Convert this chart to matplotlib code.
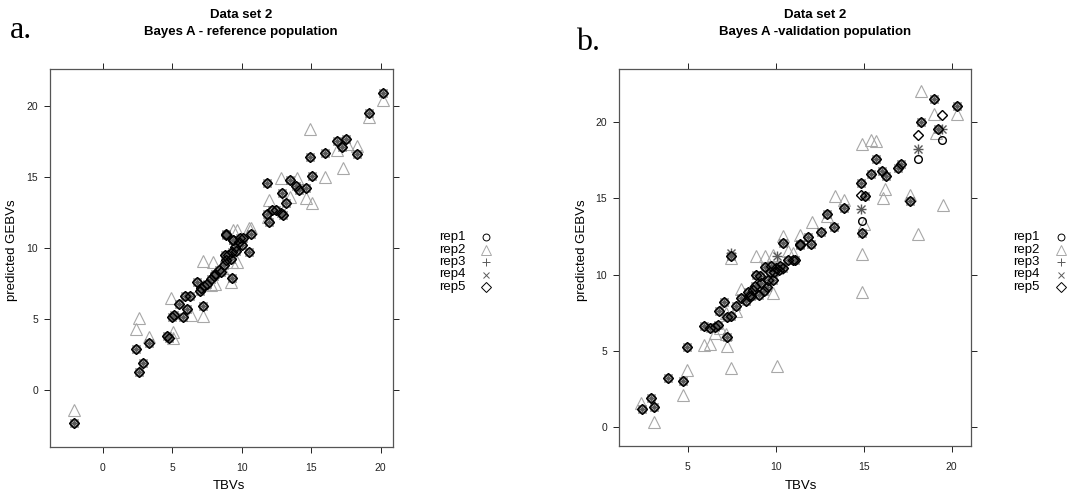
import matplotlib
matplotlib.use('Agg')
import matplotlib.pyplot as plt
from matplotlib.lines import Line2D

plt.rcParams['font.family'] = ['Liberation Sans', 'DejaVu Sans']

# ---------------- panel a: reference population ----------------
# reps 1, 3, 4 and 5 give the same predictions here
a_tbv = [20.2, 19.2, 16.9, 17.5, 17.2, 18.3, 16.0, 14.9, 15.1, 11.8, 13.5, 13.9, 14.1,
         14.6, 12.9, 13.2, 11.8, 12.2, 12.5, 12.8, 13.0, 12.0, 10.7, 10.5, 8.9, 9.4,
         9.9, -2.1, 2.6, 2.9, 2.4, 3.3, 4.65, 4.75, 5.5, 5.9, 6.3, 4.95, 5.1, 5.75,
         6.1, 7.2, 6.8, 7.1, 7.5, 7.8, 8.1, 8.4, 8.7, 8.9, 9.0, 9.3, 9.5, 9.8, 10.1,
         8.85, 9.4, 9.3, 7.3, 7.0, 8.0, 8.5, 9.2, 9.6, 10.0, 8.8]
a_gebv = [20.9, 19.5, 17.5, 17.65, 17.1, 16.6, 16.7, 16.4, 15.1, 14.6, 14.8, 14.4, 14.1,
          14.2, 13.9, 13.2, 12.4, 12.7, 12.7, 12.5, 12.3, 11.8, 11.0, 9.7, 10.9, 10.6,
          10.7, -2.3, 1.3, 1.9, 2.9, 3.3, 3.8, 3.7, 6.05, 6.6, 6.6, 5.15, 5.3, 5.15,
          5.7, 5.9, 7.6, 7.2, 7.5, 7.85, 8.2, 8.45, 8.8, 9.15, 9.5, 9.7, 10.1, 10.4, 10.7,
          11.0, 10.55, 7.9, 7.3, 7.0, 8.0, 8.3, 9.2, 9.8, 10.2, 9.5]
a_rep2_tbv = [20.2, 19.2, 14.9, 16.9, 18.3, 17.3, 16.0, 12.8, 14.0, 12.0, 13.5, 14.6,
              15.1, 9.4, 9.65, 10.5, 10.7, -2.1, 2.6, 2.4, 3.3, 5.07, 5.07, 4.9, 6.35,
              7.2, 7.2, 7.95, 9.3, 9.65, 7.8, 8.1, 9.2, 8.6, 11.9, 17.6]
a_rep2_gebv = [20.4, 19.2, 18.4, 16.9, 17.2, 15.6, 15.0, 14.9, 14.9, 13.4, 13.6, 13.5,
               13.2, 11.3, 11.3, 11.4, 11.4, -1.4, 5.1, 4.3, 3.75, 4.1, 3.65, 6.5, 5.3,
               5.2, 9.1, 9.0, 9.0, 9.0, 7.4, 7.5, 7.6, 8.6, 12.2, 17.3]

# ---------------- panel b: validation population ----------------
b_tbv = [2.43, 2.94, 3.09, 3.88, 4.73, 4.98, 5.93, 6.25, 6.53, 6.72, 6.78, 7.05, 7.23,
         7.23, 7.48, 7.73, 8.05, 8.43, 8.62, 8.81, 8.9, 9.05, 9.19, 9.32, 9.38, 9.56,
         9.66, 9.75, 9.85, 10.04, 10.23, 10.41, 10.7, 10.98, 11.36, 10.41, 11.84, 11.12,
         11.4, 12.03, 12.6, 12.94, 13.31, 13.88, 14.87, 15.1, 14.9, 15.44, 15.68, 16.06,
         16.25, 16.95, 17.14, 17.61, 18.28, 18.98, 20.3, 19.22, 7.44, 8.3, 8.7, 9.1,
         9.5, 9.9, 10.2, 8.5]
b_gebv = [1.2, 1.89, 1.34, 3.2, 3.03, 5.28, 6.64, 6.49, 6.56, 6.71, 7.63, 8.18, 5.9,
          7.22, 7.26, 7.96, 8.47, 8.84, 8.57, 9.23, 10.0, 8.68, 9.45, 8.9, 10.48, 9.68,
          10.15, 10.59, 9.67, 10.44, 10.59, 10.44, 10.99, 10.99, 12.02, 12.09, 12.48,
          10.99, 11.97, 12.04, 12.78, 13.99, 13.11, 14.39, 15.99, 15.15, 12.74, 16.64,
          17.61, 16.79, 16.47, 17.02, 17.24, 14.82, 20.04, 21.51, 21.07, 19.54, 11.2,
          8.3, 9.0, 9.9, 9.2, 10.2, 10.3, 8.6]
b_rep2_tbv = [2.37, 3.1, 4.73, 4.98, 5.93, 6.25, 7.23, 7.48, 10.07, 6.53, 6.82, 7.17,
              7.2, 8.05, 9.85, 8.9, 9.38, 9.85, 10.7, 10.98, 11.36, 10.41, 12.09, 12.94,
              13.35, 13.88, 14.93, 15.4, 15.72, 14.93, 14.93, 15.0, 16.19, 16.1, 17.61,
              18.28, 18.98, 20.3, 19.13, 19.5, 18.09, 7.77, 7.44]
b_rep2_gebv = [1.56, 0.35, 2.1, 3.75, 5.35, 5.46, 5.33, 3.86, 4.03, 6.2, 6.49, 6.1,
               7.5, 9.06, 8.8, 11.2, 11.25, 11.32, 11.53, 11.43, 12.63, 12.52, 13.47,
               13.84, 15.15, 14.87, 18.55, 18.84, 18.77, 11.38, 8.84, 13.33, 15.59, 15.0,
               15.2, 22.06, 20.57, 20.53, 19.32, 14.6, 12.68, 7.6, 11.1]
# animals where reps 1, 3, 4 and 5 disagree
b_rep1_tbv = [14.9, 18.09, 19.45]
b_rep1_gebv = [13.5, 17.57, 18.84]
b_rep34_tbv = [7.44, 10.07, 14.87, 18.09, 19.47]
b_rep34_gebv = [11.4, 11.25, 14.32, 18.27, 19.54]
b_rep5_tbv = [14.87, 18.09, 19.47]
b_rep5_gebv = [15.2, 19.16, 20.46]

reps = ['rep1', 'rep2', 'rep3', 'rep4', 'rep5']
sym = {
    'rep1': dict(marker='o', color='black', ms=5.5),
    'rep2': dict(marker='^', color='#a8a8a8', ms=8),
    'rep3': dict(marker='+', color='#5a5a5a', ms=7),
    'rep4': dict(marker='x', color='#5a5a5a', ms=5.5),
    'rep5': dict(marker='D', color='black', ms=5.5),
}


def draw(ax, rep, x, y, mew=1.0):
    s = sym[rep]
    ax.plot(x, y, ls='none', marker=s['marker'], ms=s['ms'], mfc='none',
            mec=s['color'], mew=mew)


def style(ax, xt, yt, xlim, ylim):
    ax.set_xlim(xlim)
    ax.set_ylim(ylim)
    ax.set_xticks(xt)
    ax.set_yticks(yt)
    ax.tick_params(direction='out', length=4.5, width=0.7, colors='#222222',
                   labelsize=7.5, top=True, right=True, pad=4)
    ax.tick_params(axis='x', pad=7)
    for sp in ax.spines.values():
        sp.set_color('#555555')
        sp.set_linewidth(0.9)


fig = plt.figure(figsize=(10.73, 4.99), dpi=100)
ax1 = fig.add_axes([0.0466, 0.1042, 0.3197, 0.7575])
ax2 = fig.add_axes([0.5769, 0.1062, 0.3280, 0.7555])

# panel a
draw(ax1, 'rep2', a_rep2_tbv, a_rep2_gebv, 0.8)
for r in ['rep1', 'rep3', 'rep4', 'rep5']:
    draw(ax1, r, a_tbv, a_gebv)
style(ax1, [0, 5, 10, 15, 20], [0, 5, 10, 15, 20], (-3.8, 20.9), (-4.0, 22.6))

# panel b
draw(ax2, 'rep2', b_rep2_tbv, b_rep2_gebv, 0.8)
draw(ax2, 'rep1', b_tbv + b_rep1_tbv, b_gebv + b_rep1_gebv)
draw(ax2, 'rep3', b_tbv + b_rep34_tbv, b_gebv + b_rep34_gebv)
draw(ax2, 'rep4', b_tbv + b_rep34_tbv, b_gebv + b_rep34_gebv)
draw(ax2, 'rep5', b_tbv + b_rep5_tbv, b_gebv + b_rep5_gebv)
style(ax2, [5, 10, 15, 20], [0, 5, 10, 15, 20], (1.1, 21.1), (-1.25, 23.5))

W, H = 1073, 499


def fx(px):
    return px / W


def fy(py):
    return 1 - py / H


# titles and panel letters
for cx, title in [(241, 'Bayes A - reference population'), (815, 'Bayes A -validation population')]:
    fig.text(fx(cx), fy(15), 'Data set 2', ha='center', va='center',
             fontsize=9.5, fontweight='bold')
    fig.text(fx(cx), fy(32), title, ha='center', va='center',
             fontsize=9.5, fontweight='bold')
fig.text(fx(10), fy(38), 'a.', fontsize=23, family='Liberation Serif', va='baseline')
fig.text(fx(576), fy(50), 'b.', fontsize=23, family='Liberation Serif', va='baseline')

# axis labels
fig.text(fx(229), fy(486), 'TBVs', ha='center', va='center', fontsize=9.5)
fig.text(fx(801), fy(486), 'TBVs', ha='center', va='center', fontsize=9.5)
fig.text(fx(12), fy(250), 'predicted GEBVs', ha='center', va='center',
         rotation=90, fontsize=9.5)
fig.text(fx(582), fy(250), 'predicted GEBVs', ha='center', va='center',
         rotation=90, fontsize=9.5)

# keys
for tx, mx in [(439, 486), (1013, 1061)]:
    for i, r in enumerate(reps):
        yy = 237 + i * 12.5
        fig.text(fx(tx), fy(yy), r, ha='left', va='center', fontsize=9.5)
        s = sym[r]
        fig.add_artist(Line2D([fx(mx)], [fy(yy)], transform=fig.transFigure,
                              ls='none', marker=s['marker'], ms=s['ms'] * 0.9, mfc='none',
                              mec=s['color'], mew=0.7))

fig.savefig('out.png', dpi=100)
